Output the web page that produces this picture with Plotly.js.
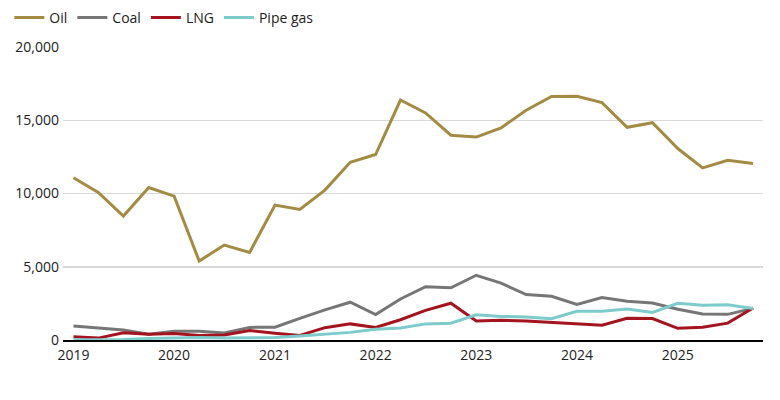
<!DOCTYPE html>
<html>
<head>
<meta charset="utf-8">
<script src="https://cdn.plot.ly/plotly-3.0.1.min.js"></script>
<style>
  html, body { margin: 0; padding: 0; background: #fff; }
  #chart { width: 780px; height: 400px; }
</style>
</head>
<body>
<div id="chart"></div>
<script>
const quarters = [
  "2019-01-01", "2019-04-01", "2019-07-01", "2019-10-01",
  "2020-01-01", "2020-04-01", "2020-07-01", "2020-10-01",
  "2021-01-01", "2021-04-01", "2021-07-01", "2021-10-01",
  "2022-01-01", "2022-04-01", "2022-07-01", "2022-10-01",
  "2023-01-01", "2023-04-01", "2023-07-01", "2023-10-01",
  "2024-01-01", "2024-04-01", "2024-07-01", "2024-10-01",
  "2025-01-01", "2025-04-01", "2025-07-01", "2025-10-01"
];

const oil = [
  11080, 10070, 8460, 10410, 9820, 5390, 6480, 5980,
  9210, 8910, 10230, 12130, 12660, 16380, 15500, 13980,
  13850, 14480, 15680, 16620, 16630, 16200, 14520, 14830,
  13070, 11750, 12270, 12050
];
const coal = [
  950, 800, 680, 400, 590, 590, 480, 860,
  870, 1480, 2060, 2580, 1740, 2800, 3640, 3560,
  4420, 3880, 3100, 2980, 2420, 2900, 2650, 2520,
  2100, 1780, 1750, 2160
];
const lng = [
  230, 130, 500, 390, 440, 300, 340, 640,
  460, 310, 840, 1100, 860, 1380, 2020, 2510,
  1300, 1350, 1300, 1200, 1060, 1010, 1480, 1460,
  800, 870, 1150, 2180
];
const pipeGas = [
  20, 20, 40, 110, 160, 170, 140, 130,
  170, 270, 420, 520, 730, 820, 1100, 1150,
  1720, 1610, 1570, 1450, 1960, 1960, 2120, 1880,
  2510, 2380, 2400, 2150
];

const seriesNames = ["Oil", "Coal", "LNG", "Pipe gas"];
const seriesValues = [oil, coal, lng, pipeGas];
const seriesColors = ["#a38b43", "#767676", "#a3141f", "#7ecbcb"];

const traces = seriesNames.map((name, i) => ({
  type: "scatter",
  mode: "lines",
  name: name,
  x: quarters,
  y: seriesValues[i],
  line: { color: seriesColors[i], width: 3 },
  hoverinfo: "x+y+name"
}));

const layout = {
  width: 780,
  height: 400,
  margin: { l: 63, r: 17, t: 47, b: 60 },
  paper_bgcolor: "#ffffff",
  plot_bgcolor: "#ffffff",
  font: { family: "'Open Sans', 'Noto Sans', sans-serif", size: 14, color: "#222222" },
  showlegend: true,
  legend: {
    orientation: "h",
    xref: "container",
    yref: "container",
    x: 0.012,
    xanchor: "left",
    y: 0.995,
    yanchor: "top",
    font: { size: 14, color: "#222222" },
    traceorder: "normal",
    itemwidth: 30,
    bgcolor: "rgba(0,0,0,0)"
  },
  xaxis: {
    type: "date",
    range: ["2018-11-24", "2025-11-06"],
    tick0: "2019-01-01",
    dtick: "M12",
    tickformat: "%Y",
    showgrid: false,
    zeroline: false,
    showline: true,
    linecolor: "#000000",
    linewidth: 2,
    ticks: "",
    automargin: false,
    ticklabelstandoff: 1,
    tickfont: { size: 14, color: "#222222" }
  },
  yaxis: {
    range: [0, 20000],
    tickvals: [0, 5000, 10000, 15000, 20000],
    tickformat: ",d",
    showgrid: true,
    gridcolor: "#d9d9d9",
    gridwidth: 1.5,
    zeroline: false,
    showline: false,
    ticks: "",
    automargin: false,
    ticklabelstandoff: 3,
    tickfont: { size: 14, color: "#222222" }
  }
};

Plotly.newPlot("chart", traces, layout, { displayModeBar: false, staticPlot: true });
</script>
</body>
</html>
